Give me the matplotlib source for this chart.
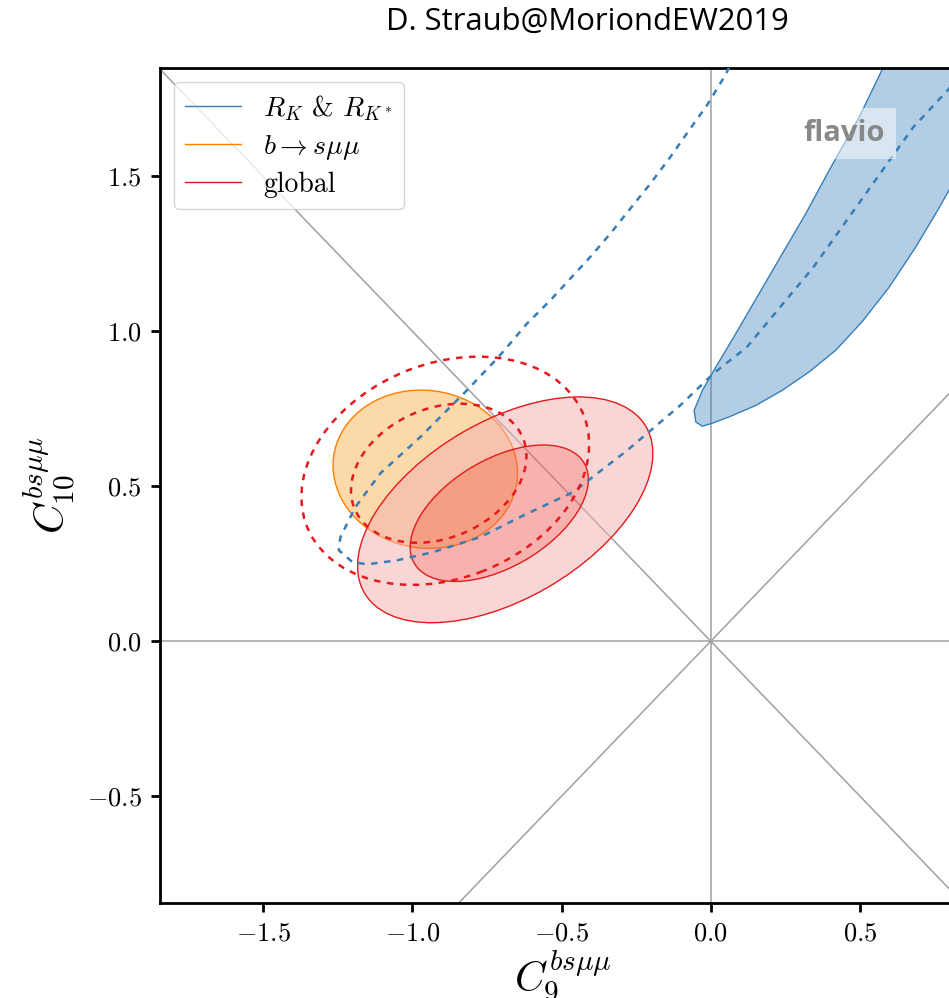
import numpy as np
import matplotlib
matplotlib.use("Agg")
import matplotlib.pyplot as plt
from matplotlib.patches import Ellipse, PathPatch
from matplotlib.path import Path
from matplotlib.lines import Line2D

plt.rcParams["font.family"] = "serif"
plt.rcParams["font.serif"] = ["cmr10"]
plt.rcParams["mathtext.fontset"] = "cm"
plt.rcParams["axes.formatter.use_mathtext"] = True

BLUE = "#377eb8"
ORANGE = "#ff7f00"
RED = "#e41a1c"
# lighter fill shades for the 1 sigma / 2 sigma regions
RED_FILL = ("#f1655f", "#f5afaf")
ORANGE_FILL = "#fbb555"

# R_K & R_K* band (1 sigma), closed outline
rk_band_x = [0.6245, 0.5732, 0.5005, 0.3966, 0.3186, 0.2402, 0.1621, 0.0841,
             0.0171, -0.0278, -0.0556, -0.0499, -0.0278, 0.0003, 0.0616,
             0.1511, 0.2402, 0.3296, 0.4191, 0.5082, 0.5977, 0.6871, 0.7541,
             0.7987, 0.8355, 0.902, 0.969]
rk_band_y = [1.939, 1.842, 1.697, 1.519, 1.380, 1.251, 1.122, 0.993,
             0.885, 0.810, 0.745, 0.707, 0.694, 0.702, 0.724,
             0.761, 0.810, 0.869, 0.939, 1.032, 1.142, 1.272, 1.380,
             1.455, 1.530, 1.681, 1.906]

# previous R_K & R_K* contour (dashed)
rk_prev_x = [0.0817, 0.0482, -0.0131, -0.0690, -0.1360, -0.2030, -0.2700,
             -0.3370, -0.4040, -0.4710, -0.5380, -0.6161, -0.6831, -0.7166,
             -0.8171, -0.9735, -1.1075, -1.1913, -1.2415, -1.2472, -1.2023,
             -1.1521, -1.0516, -0.9290, -0.7725, -0.6385, -0.4600, -0.2801,
             -0.1025, 0.0090, 0.1209, 0.3441, 0.5675, 0.6791, 0.7987, 0.8858]
rk_prev_y = [1.890, 1.826, 1.729, 1.654, 1.562, 1.476, 1.396,
             1.315, 1.240, 1.170, 1.100, 1.025, 0.949, 0.912,
             0.810, 0.659, 0.542, 0.433, 0.336, 0.294, 0.256,
             0.248, 0.261, 0.288, 0.336, 0.401, 0.482, 0.616,
             0.761, 0.864, 0.949, 1.207, 1.509, 1.659, 1.783, 1.906]

# ellipses: (centre C9, centre C10, width, height, angle in deg)
bsmumu_1s = (-0.957, 0.555, 0.620, 0.509, -7)
global_2s = (-0.689, 0.424, 1.086, 0.576, 29)
global_1s = (-0.709, 0.413, 0.655, 0.349, 29)
global_prev_2s = (-0.890, 0.550, 0.995, 0.695, 20)
global_prev_1s = (-0.912, 0.542, 0.609, 0.420, 21)


def ellipse_path(par, reverse=False):
    cx, cy, w, h, ang = par
    e = Ellipse((cx, cy), w, h, angle=ang)
    p = e.get_patch_transform().transform_path(e.get_path())
    if reverse:
        v = p.vertices[:-1][::-1]
        p = Path(np.vstack([v, v[:1]]), p.codes)
    return p


fig = plt.figure(figsize=(9.49, 9.98), dpi=100)
ax = fig.add_axes([160.4 / 949, 95 / 998, 803.9 / 949, 835 / 998])
ax.set_xlim(-1.845, 0.85)
ax.set_ylim(-0.845, 1.85)

# reference lines through the origin
for s in (1, -1):
    ax.axline((0, 0), slope=s, color="#a0a0a0", lw=1.1, zorder=0.5)
ax.axhline(0, color="#a0a0a0", lw=1.1, zorder=0.5)
ax.axvline(0, color="#a0a0a0", lw=1.1, zorder=0.5)

# R_K & R_K*
ax.fill(rk_band_x, rk_band_y, color=BLUE, alpha=0.38, lw=0, zorder=1)
ax.plot(rk_band_x + rk_band_x[:1], rk_band_y + rk_band_y[:1], color=BLUE, lw=1.0,
        solid_joinstyle="round", zorder=1.1)
ax.plot(rk_prev_x, rk_prev_y, color=BLUE, lw=1.8, ls=(0, (2.6, 2.6)), zorder=3)

# b -> s mu mu
ax.add_patch(PathPatch(ellipse_path(bsmumu_1s), facecolor=ORANGE_FILL, alpha=0.5,
                       edgecolor="none", zorder=2))
ax.add_patch(PathPatch(ellipse_path(bsmumu_1s), fill=False, edgecolor=ORANGE,
                       lw=1.0, zorder=2.05))

# global fit: 1 sigma region and 1-2 sigma ring
ring = Path.make_compound_path(ellipse_path(global_2s), ellipse_path(global_1s, reverse=True))
ax.add_patch(PathPatch(ring, facecolor=RED_FILL[1], alpha=0.5, edgecolor="none", zorder=2.2))
ax.add_patch(PathPatch(ellipse_path(global_1s), facecolor=RED_FILL[0], alpha=0.5,
                       edgecolor="none", zorder=2.2))
for par in (global_2s, global_1s):
    ax.add_patch(PathPatch(ellipse_path(par), fill=False, edgecolor=RED, lw=1.0, zorder=2.3))

# previous global fit (dashed)
for par in (global_prev_2s, global_prev_1s):
    ax.add_patch(PathPatch(ellipse_path(par), fill=False, edgecolor=RED, lw=1.8,
                           ls=(0, (2.6, 2.6)), zorder=3))

handles = [Line2D([], [], color=BLUE, lw=1.0),
           Line2D([], [], color=ORANGE, lw=1.0),
           Line2D([], [], color=RED, lw=1.0)]
labels = [r"$R_K$ & $R_{K^*}$", r"$b\to s\mu\mu$", "global"]
ax.legend(handles, labels, loc="upper left", fontsize=20, framealpha=0.8,
          edgecolor="#cccccc", labelspacing=0.36)

ax.text(0.85, 0.922, "flavio", transform=ax.transAxes, ha="center", va="center",
        family="Open Sans", fontweight="bold", fontsize=21, color="#888888",
        bbox=dict(facecolor="white", alpha=0.5, edgecolor="none", pad=8), zorder=5)

ax.set_xticks([-1.5, -1.0, -0.5, 0.0, 0.5])
ax.set_yticks([-0.5, 0.0, 0.5, 1.0, 1.5])
ax.tick_params(labelsize=19, width=2, length=6.5, pad=7, direction="out")
for side in ("left", "bottom", "top", "right"):
    ax.spines[side].set_linewidth(2)

ax.set_xlabel(r"$C_9^{bs\mu\mu}$", fontsize=30, labelpad=1)
ax.set_ylabel(r"$C_{10}^{bs\mu\mu}$", fontsize=30, labelpad=6)

fig.text(0.619, 0.978, "D. Straub@MoriondEW2019", ha="center", va="center",
         family="Open Sans", fontsize=22.3)

fig.savefig("out.png", dpi=100)
